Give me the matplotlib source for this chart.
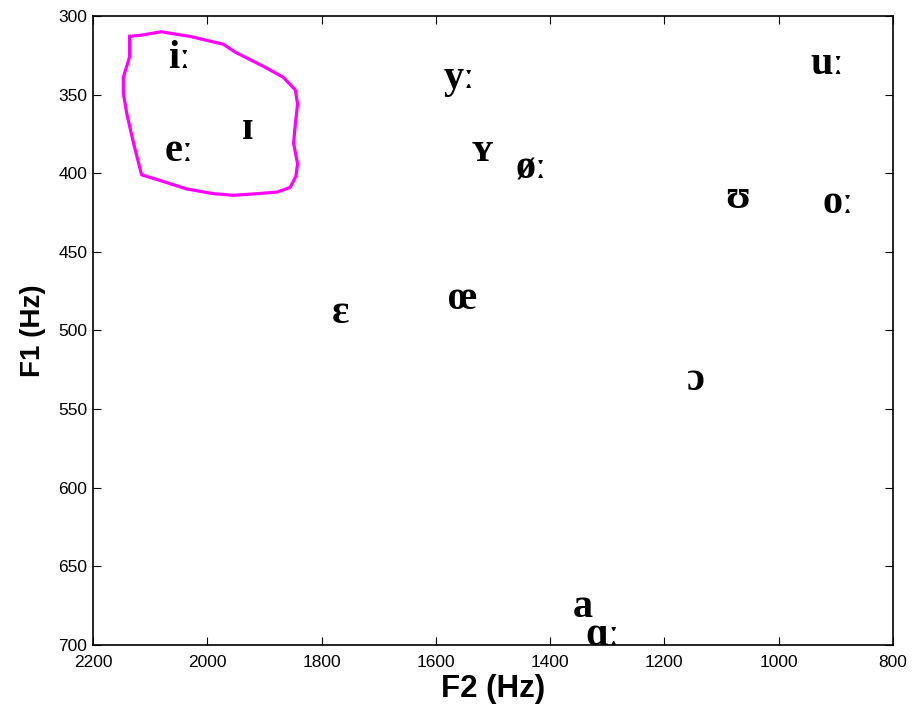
import matplotlib
matplotlib.use("Agg")
import matplotlib.pyplot as plt

# vowel symbols with F2 (left edge of label) and F1 (label centre), in Hz
vowels = ["iː", "ɪ", "eː", "yː", "ʏ", "øː", "uː", "ʊ", "oː", "ɛ", "œ", "ɔ", "a", "ɑː"]
f2 = [2069, 1939, 2074, 1587, 1537, 1461, 945, 1094, 924, 1782, 1579, 1160, 1360, 1339]
f1 = [327, 372, 386, 340, 386, 397, 331, 416, 419, 489, 480, 532, 676, 694]

# hand-drawn outline round the front vowels
curve_f2 = [2136, 2112, 2080, 2065, 2030, 1972, 1951, 1902, 1867, 1846, 1842, 1846,
            1849, 1842, 1845, 1855, 1878, 1913, 1954, 1989, 2036, 2088, 2115, 2129,
            2141, 2147, 2147, 2141, 2136, 2136]
curve_f1 = [313, 312, 310, 311, 313, 318, 323, 332, 339, 347, 356, 369,
            381, 394, 402, 409, 412, 413, 414, 413, 410, 404, 401, 381,
            362, 349, 339, 332, 326, 313]

xticks = [2200, 2000, 1800, 1600, 1400, 1200, 1000, 800]
yticks = [300, 350, 400, 450, 500, 550, 600, 650, 700]

sans = ["Liberation Sans", "DejaVu Sans"]
serif = ["Liberation Serif", "DejaVu Serif"]

fig = plt.figure(figsize=(9.22, 7.04), dpi=100)
ax = fig.add_axes([0.1009, 0.0838, 0.8676, 0.8935])

ax.plot(curve_f2, curve_f1, color="#ff00ff", lw=2.3, solid_joinstyle="round")

for v, x, y in zip(vowels, f2, f1):
    ax.text(x, y, v, ha="left", va="center", fontsize=29, fontweight="bold",
            family=serif, color="black")

ax.set_xlim(2200, 800)
ax.set_ylim(700, 300)
ax.set_xticks(xticks)
ax.set_yticks(yticks)
ax.tick_params(direction="in", top=True, right=True, length=6, width=0.8,
               labelsize=12.5)
ax.tick_params(axis="x", pad=7)
ax.tick_params(axis="y", pad=4)
for lab in ax.get_xticklabels() + ax.get_yticklabels():
    lab.set_family(sans)
for s in ax.spines.values():
    s.set_linewidth(1.2)

ax.set_xlabel("F2 (Hz)", fontsize=22.5, fontweight="bold", family=sans, labelpad=3)
ax.set_ylabel("F1 (Hz)", fontsize=20, fontweight="bold", family=sans, labelpad=9)

fig.savefig("out.png", dpi=100)
